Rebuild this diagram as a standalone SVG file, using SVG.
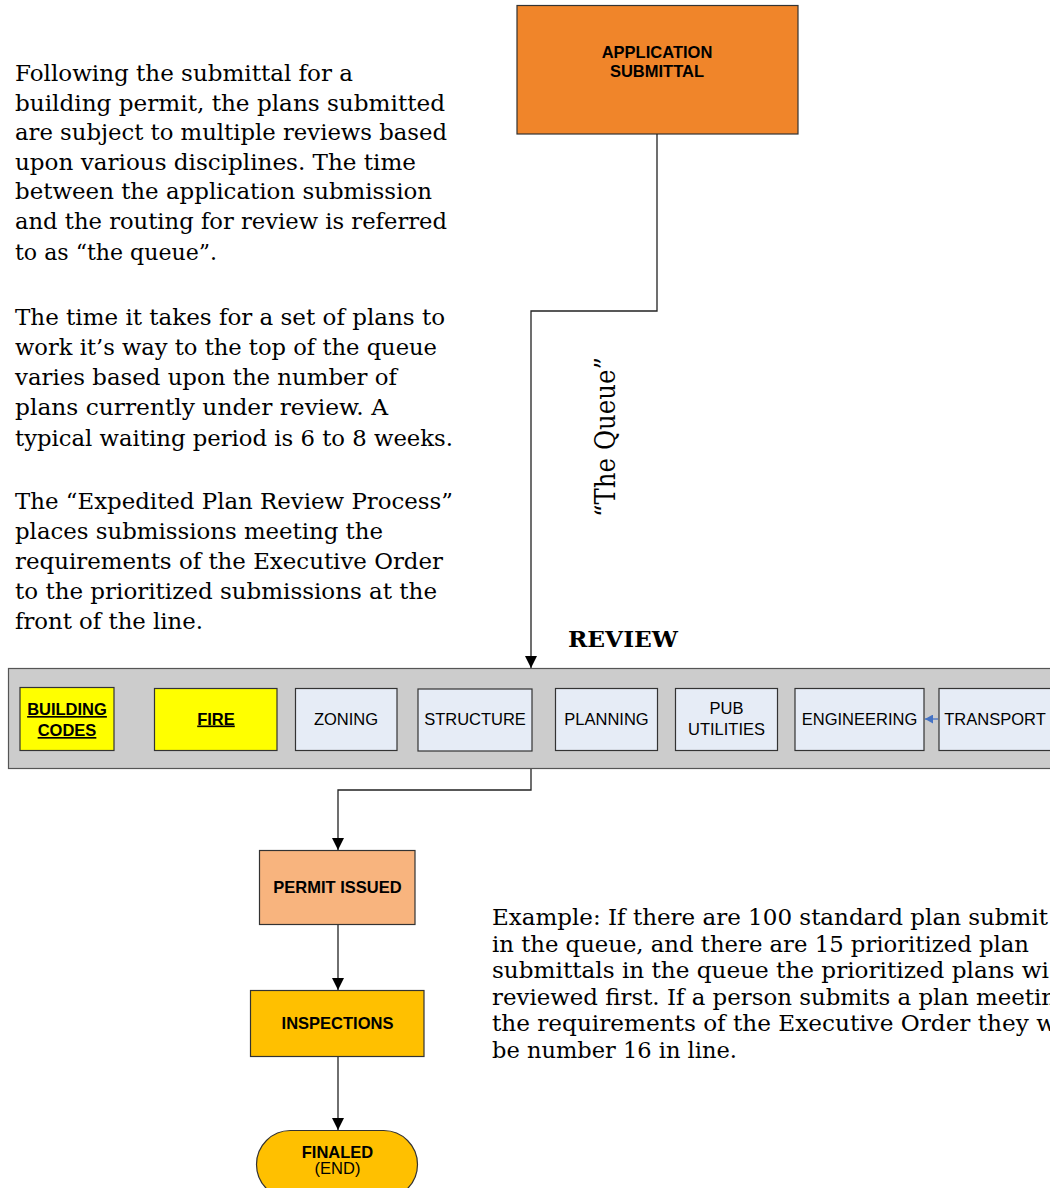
<svg xmlns="http://www.w3.org/2000/svg" width="1050" height="1188" viewBox="0 0 1050 1188">
<style>
.box{stroke:#333;stroke-width:1.2}
.lb{font-family:"Liberation Sans",Arial,sans-serif;font-size:16.5px;fill:#000;text-anchor:middle}
.b{font-weight:bold}
.u{text-decoration:underline}
.tx{font-family:"DejaVu Serif",serif;font-size:22.5px;fill:#000}
.con{fill:none;stroke:#222;stroke-width:1.3}
</style>
<defs>
<marker id="ah" markerWidth="12" markerHeight="12" viewBox="0 0 12 12" refX="12" refY="6" orient="auto" markerUnits="userSpaceOnUse">
<path d="M0,0 L12,6 L0,12 Z" fill="#000"/>
</marker>
<marker id="ahb" markerWidth="8" markerHeight="9" viewBox="0 0 8 9" refX="8" refY="4.5" orient="auto" markerUnits="userSpaceOnUse">
<path d="M0,0 L8,4.5 L0,9 Z" fill="#4472C4"/>
</marker>
</defs>
<rect width="1050" height="1188" fill="#fff"/>

<g id="intro-text" class="tx">
<text x="15" y="81" textLength="338" lengthAdjust="spacingAndGlyphs">Following the submittal for a</text>
<text x="15" y="110.5" textLength="430" lengthAdjust="spacingAndGlyphs">building permit, the plans submitted</text>
<text x="15" y="140" textLength="432" lengthAdjust="spacingAndGlyphs">are subject to multiple reviews based</text>
<text x="15" y="169.5" textLength="401" lengthAdjust="spacingAndGlyphs">upon various disciplines. The time</text>
<text x="15" y="199" textLength="417" lengthAdjust="spacingAndGlyphs">between the application submission</text>
<text x="15" y="228.5" textLength="432" lengthAdjust="spacingAndGlyphs">and the routing for review is referred</text>
<text x="15" y="260" textLength="202" lengthAdjust="spacingAndGlyphs">to as “the queue”.</text>
<text x="15" y="325" textLength="430" lengthAdjust="spacingAndGlyphs">The time it takes for a set of plans to</text>
<text x="15" y="355" textLength="422" lengthAdjust="spacingAndGlyphs">work it’s way to the top of the queue</text>
<text x="15" y="385" textLength="382" lengthAdjust="spacingAndGlyphs">varies based upon the number of</text>
<text x="15" y="415" textLength="373" lengthAdjust="spacingAndGlyphs">plans currently under review. A</text>
<text x="15" y="446" textLength="438" lengthAdjust="spacingAndGlyphs">typical waiting period is 6 to 8 weeks.</text>
<text x="15" y="509" textLength="438" lengthAdjust="spacingAndGlyphs">The “Expedited Plan Review Process”</text>
<text x="15" y="539" textLength="368" lengthAdjust="spacingAndGlyphs">places submissions meeting the</text>
<text x="15" y="569" textLength="428" lengthAdjust="spacingAndGlyphs">requirements of the Executive Order</text>
<text x="15" y="599" textLength="422" lengthAdjust="spacingAndGlyphs">to the prioritized submissions at the</text>
<text x="15" y="629" textLength="188" lengthAdjust="spacingAndGlyphs">front of the line.</text>
</g>

<g id="example-text" class="tx">
<text x="492" y="925" textLength="556" lengthAdjust="spacingAndGlyphs">Example: If there are 100 standard plan submit</text>
<text x="492" y="951.5" textLength="537" lengthAdjust="spacingAndGlyphs">in the queue, and there are 15 prioritized plan</text>
<text x="492" y="978" textLength="557" lengthAdjust="spacingAndGlyphs">submittals in the queue the prioritized plans wi</text>
<text x="492" y="1004.5" textLength="564" lengthAdjust="spacingAndGlyphs">reviewed first. If a person submits a plan meetin</text>
<text x="492" y="1031" textLength="564" lengthAdjust="spacingAndGlyphs">the requirements of the Executive Order they w</text>
<text x="492" y="1057.5" textLength="245" lengthAdjust="spacingAndGlyphs">be number 16 in line.</text>
</g>

<g id="queue-label">
<text transform="translate(615,517) rotate(-90)" font-family="DejaVu Serif,serif" font-size="28" textLength="160" lengthAdjust="spacingAndGlyphs">“The Queue”</text>
</g>

<g id="application-submittal">
<rect class="box" x="517" y="5.5" width="281" height="128.5" fill="#F0852A"/>
<text class="lb b" x="657" y="58">APPLICATION</text>
<text class="lb b" x="657" y="77">SUBMITTAL</text>
</g>

<g id="review">
<text x="568" y="647" font-family="DejaVu Serif,serif" font-weight="bold" font-size="23" textLength="110" lengthAdjust="spacingAndGlyphs">REVIEW</text>
<rect x="8.5" y="668.5" width="1060" height="100" fill="#CCCCCC" stroke="#555" stroke-width="1.2"/>
</g>

<g id="building-codes">
<rect class="box" x="20" y="687.5" width="94" height="63" fill="#FFFF00"/>
<text class="lb b u" x="67" y="715">BUILDING</text>
<text class="lb b u" x="67" y="736">CODES</text>
</g>
<g id="fire">
<rect class="box" x="154.5" y="688.5" width="122.5" height="62" fill="#FFFF00"/>
<text class="lb b u" x="216" y="724.5">FIRE</text>
</g>
<g id="zoning">
<rect class="box" x="295.5" y="688.5" width="101.5" height="62" fill="#E6ECF6"/>
<text class="lb" x="346" y="724.5">ZONING</text>
</g>
<g id="structure">
<rect class="box" x="418" y="689" width="114" height="62" fill="#E6ECF6"/>
<text class="lb" x="475" y="724.5">STRUCTURE</text>
</g>
<g id="planning">
<rect class="box" x="555.5" y="688.5" width="102" height="62" fill="#E6ECF6"/>
<text class="lb" x="606.5" y="724.5">PLANNING</text>
</g>
<g id="pub-utilities">
<rect class="box" x="675.5" y="688.5" width="102" height="62" fill="#E6ECF6"/>
<text class="lb" x="726.5" y="713.5">PUB</text>
<text class="lb" x="726.5" y="735">UTILITIES</text>
</g>
<g id="engineering">
<rect class="box" x="795" y="688.5" width="129" height="62" fill="#E6ECF6"/>
<text class="lb" x="859.5" y="724.5">ENGINEERING</text>
</g>
<g id="transport">
<rect class="box" x="939" y="688.5" width="130" height="62" fill="#E6ECF6"/>
<text class="lb" x="995" y="724.5">TRANSPORT</text>
</g>

<g id="permit-issued">
<rect class="box" x="259.5" y="850.5" width="155.5" height="74" fill="#F8B47E"/>
<text class="lb b" x="337.5" y="893">PERMIT ISSUED</text>
</g>
<g id="inspections">
<rect class="box" x="250.5" y="990.5" width="173.5" height="66" fill="#FFC000"/>
<text class="lb b" x="337.5" y="1029">INSPECTIONS</text>
</g>
<g id="finaled">
<rect class="box" x="256.5" y="1130.5" width="161" height="68" rx="34" fill="#FFC000"/>
<text class="lb b" x="337.5" y="1158">FINALED</text>
<text class="lb" x="337.5" y="1174" font-size="12.5">(END)</text>
</g>

<g id="connectors">
<polyline class="con" points="657,134 657,311 531,311 531,668" marker-end="url(#ah)"/>
<polyline class="con" points="531,769 531,790 338,790 338,850" marker-end="url(#ah)"/>
<line class="con" x1="338" y1="925" x2="338" y2="990" marker-end="url(#ah)"/>
<line class="con" x1="338" y1="1057" x2="338" y2="1130" marker-end="url(#ah)"/>
<line x1="938" y1="719" x2="925" y2="719" stroke="#4472C4" stroke-width="1.3" marker-end="url(#ahb)"/>
</g>
</svg>
